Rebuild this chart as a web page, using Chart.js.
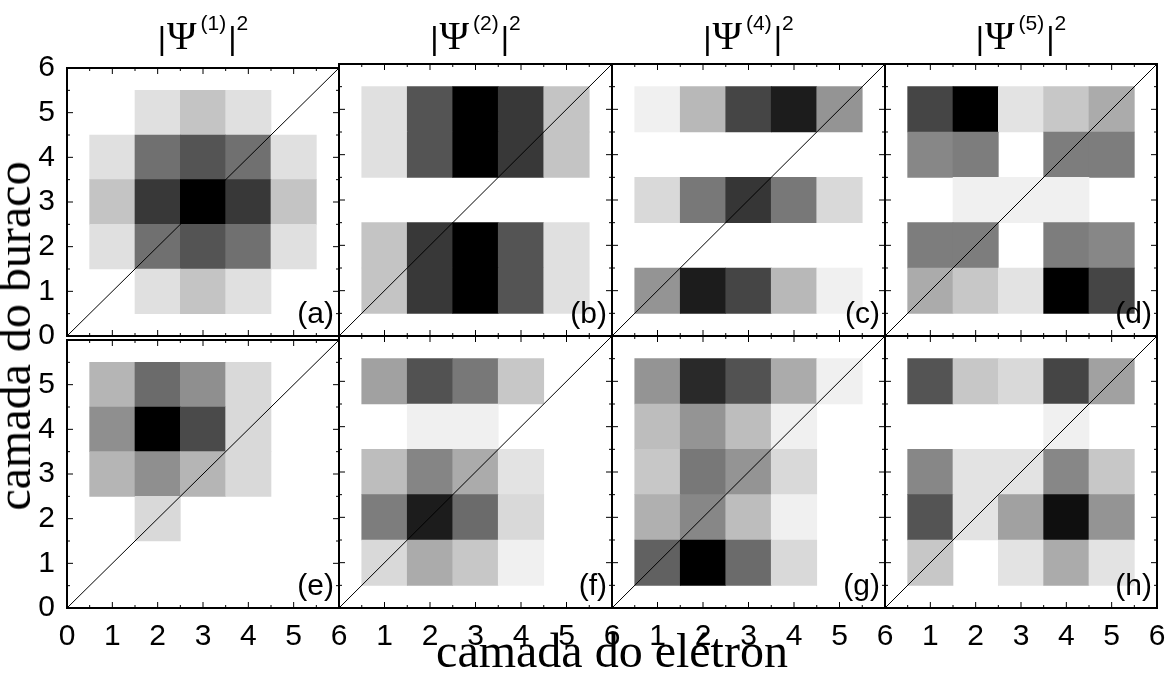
<!DOCTYPE html>
<html>
<head>
<meta charset="utf-8">
<script src="https://cdn.jsdelivr.net/npm/chart.js@4"></script>
<style>
  body { margin: 0; background: #fff; }
  #fig { position: relative; width: 1175px; height: 680px; overflow: hidden; }
  #fig canvas { position: absolute; }
  .ttl {
    position: absolute; top: 12px; transform: translateX(-50%);
    font-family: "Liberation Sans", sans-serif; font-size: 32px; line-height: 48px;
    white-space: nowrap; color: #000;
  }
  .ttl .psi { font-family: "Liberation Serif", serif; font-size: 40px; margin: 0 1px; }
  .ttl sup { font-size: 21px; vertical-align: baseline; position: relative; top: -19px; }
  .ttl sup.n { margin-left: 3px; margin-right: 2px; }
  .axlab {
    position: absolute; font-family: "Liberation Serif", serif; font-size: 48px; line-height: 48px;
    color: #000; white-space: nowrap;
  }
</style>
</head>
<body>
<div id="fig"></div>
<script>
// camada do elétron (x) e camada do buraco (y)
const electronLayers = [1, 2, 3, 4, 5];
const holeLayers = [5, 4, 3, 2, 1];   // rows listed from top to bottom
const axisTicks = [0, 1, 2, 3, 4, 5, 6];
const diagonal = [0, 6];

const stateNames = ['1', '2', '4', '5', '1', '2', '4', '5'];
const panelLetters = ['(a)', '(b)', '(c)', '(d)', '(e)', '(f)', '(g)', '(h)'];

// |Psi|^2 normalised to the maximum of each panel, rows = holeLayers
const probA = [
  [0.00, 0.12, 0.23, 0.12, 0.00],
  [0.12, 0.56, 0.67, 0.56, 0.12],
  [0.23, 0.78, 1.00, 0.78, 0.23],
  [0.12, 0.56, 0.67, 0.56, 0.12],
  [0.00, 0.12, 0.23, 0.12, 0.00]
];
const probB = [
  [0.12, 0.67, 1.00, 0.78, 0.23],
  [0.12, 0.67, 1.00, 0.78, 0.23],
  [0.00, 0.00, 0.00, 0.00, 0.00],
  [0.23, 0.78, 1.00, 0.67, 0.12],
  [0.23, 0.78, 1.00, 0.67, 0.12]
];
const probC = [
  [0.06, 0.28, 0.73, 0.89, 0.42],
  [0.00, 0.00, 0.00, 0.00, 0.00],
  [0.15, 0.53, 0.79, 0.53, 0.15],
  [0.00, 0.00, 0.00, 0.00, 0.00],
  [0.42, 0.89, 0.73, 0.28, 0.06]
];
const probD = [
  [0.73, 1.00, 0.11, 0.22, 0.33],
  [0.47, 0.51, 0.00, 0.51, 0.51],
  [0.00, 0.06, 0.06, 0.06, 0.00],
  [0.51, 0.51, 0.00, 0.51, 0.47],
  [0.33, 0.22, 0.11, 1.00, 0.73]
];
const probE = [
  [0.29, 0.58, 0.44, 0.15, 0.00],
  [0.44, 1.00, 0.71, 0.15, 0.00],
  [0.29, 0.44, 0.29, 0.15, 0.00],
  [0.00, 0.15, 0.00, 0.00, 0.00],
  [0.00, 0.00, 0.00, 0.00, 0.00]
];
const probF = [
  [0.37, 0.68, 0.53, 0.22, 0.00],
  [0.00, 0.06, 0.06, 0.00, 0.00],
  [0.26, 0.48, 0.33, 0.11, 0.00],
  [0.51, 0.89, 0.58, 0.15, 0.00],
  [0.15, 0.33, 0.22, 0.06, 0.00]
];
const probG = [
  [0.42, 0.84, 0.68, 0.33, 0.06],
  [0.26, 0.42, 0.26, 0.06, 0.00],
  [0.22, 0.53, 0.42, 0.15, 0.00],
  [0.31, 0.47, 0.26, 0.06, 0.00],
  [0.62, 1.00, 0.58, 0.15, 0.00]
];
const probH = [
  [0.67, 0.22, 0.15, 0.73, 0.37],
  [0.00, 0.00, 0.00, 0.06, 0.00],
  [0.47, 0.11, 0.11, 0.47, 0.22],
  [0.67, 0.11, 0.37, 0.94, 0.42],
  [0.22, 0.00, 0.11, 0.33, 0.11]
];
const panels = [probA, probB, probC, probD, probE, probF, probG, probH];

// figure layout (pixels)
const colLeft = [67, 339, 612, 885];
const colWidth = [272, 273, 273, 272];
const rowTop = [64, 336];
const rowHeight = 272;
const padL = 58, padT = 18, padR = 12, padB = 40;

const fig = document.getElementById('fig');

function grey(v) {
  const g = Math.round(255 * (1 - v));
  return `rgb(${g},${g},${g})`;
}

// frame, inward major/minor ticks and the panel letter
const frameTicks = {
  id: 'frameTicks',
  afterDatasetsDraw(chart, args, opts) {
    const { ctx, chartArea: a, scales: { x, y } } = chart;
    ctx.save();
    ctx.strokeStyle = '#000';
    ctx.lineWidth = 1;
    ctx.beginPath();
    const marks = (scale) => {
      const out = [];
      scale.ticks.forEach((t, i) => {
        out.push([scale.getPixelForValue(t.value), 6]);
        const next = scale.ticks[i + 1];
        if (next) out.push([scale.getPixelForValue((t.value + next.value) / 2), 3]);
      });
      return out;
    };
    marks(x).forEach(([px, len]) => {
      ctx.moveTo(px, a.bottom); ctx.lineTo(px, a.bottom - len);
      ctx.moveTo(px, a.top); ctx.lineTo(px, a.top + len);
    });
    marks(y).forEach(([py, len]) => {
      ctx.moveTo(a.left, py); ctx.lineTo(a.left + len, py);
      ctx.moveTo(a.right, py); ctx.lineTo(a.right - len, py);
    });
    ctx.stroke();
    ctx.lineWidth = 2;
    ctx.strokeRect(a.left, a.top, a.right - a.left, a.bottom - a.top);
    ctx.fillStyle = '#000';
    ctx.font = '30px "Liberation Sans", sans-serif';
    ctx.textAlign = 'right';
    ctx.textBaseline = 'alphabetic';
    ctx.fillText(opts.letter, a.right - 5, a.bottom - 13);
    ctx.restore();
  }
};

panels.forEach((prob, p) => {
  const col = p % 4, row = Math.floor(p / 4);
  const canvas = document.createElement('canvas');
  canvas.width = colWidth[col] + padL + padR;
  canvas.height = rowHeight + padT + padB;
  canvas.style.left = (colLeft[col] - padL) + 'px';
  canvas.style.top = (rowTop[row] - padT) + 'px';
  fig.appendChild(canvas);

  const cells = [], colors = [];
  holeLayers.forEach((h, r) => {
    electronLayers.forEach((e, c) => {
      const v = prob[r][c];
      if (v > 0) {
        cells.push({ x: e, y: [h - 0.5, h + 0.5] });
        colors.push(grey(v));
      }
    });
  });

  const showY = col === 0;
  const showX = row === 1;
  const hideY = row === 1 ? [6] : [];
  const hideX = col > 0 ? [0] : [];

  new Chart(canvas, {
    type: 'bar',
    data: {
      datasets: [
        {
          type: 'line',
          data: diagonal.map(v => ({ x: v, y: v })),
          borderColor: '#000',
          borderWidth: 1,
          pointRadius: 0,
          order: 0
        },
        {
          data: cells,
          backgroundColor: colors,
          borderWidth: 0,
          barPercentage: 1,
          categoryPercentage: 1,
          order: 1
        }
      ]
    },
    options: {
      responsive: false,
      animation: false,
      events: [],
      layout: { padding: { left: padL - 50, top: padT, right: padR, bottom: 0 } },
      plugins: {
        legend: { display: false },
        tooltip: { enabled: false },
        frameTicks: { letter: panelLetters[p] }
      },
      scales: {
        x: {
          type: 'linear',
          min: axisTicks[0], max: axisTicks[axisTicks.length - 1],
          offset: false,
          grid: { display: false },
          border: { display: false },
          afterFit(s) { s.height = padB; },
          ticks: {
            display: showX,
            stepSize: 1,
            padding: 3,
            color: '#000',
            font: { family: 'Liberation Sans', size: 30 },
            maxRotation: 0,
            autoSkip: false,
            callback: v => hideX.includes(v) ? '' : String(v)
          }
        },
        y: {
          type: 'linear',
          min: axisTicks[0], max: axisTicks[axisTicks.length - 1],
          grid: { display: false },
          border: { display: false },
          afterFit(s) { s.width = 50; },
          ticks: {
            display: showY,
            stepSize: 1,
            padding: 4,
            color: '#000',
            font: { family: 'Liberation Sans', size: 30 },
            autoSkip: false,
            callback: v => hideY.includes(v) ? '' : String(v)
          }
        }
      }
    },
    plugins: [frameTicks]
  });

  if (row === 0) {
    const t = document.createElement('div');
    t.className = 'ttl';
    t.style.left = (colLeft[col] + colWidth[col] / 2) + 'px';
    t.innerHTML = `|<span class="psi">Ψ</span><sup class="n">(${stateNames[p]})</sup>|<sup>2</sup>`;
    fig.appendChild(t);
  }
});

const xl = document.createElement('div');
xl.className = 'axlab';
xl.textContent = 'camada do elétron';
xl.style.left = '612px';
xl.style.top = '627px';
xl.style.transform = 'translateX(-50%)';
fig.appendChild(xl);

const yl = document.createElement('div');
yl.className = 'axlab';
yl.textContent = 'camada do buraco';
yl.style.left = '14px';
yl.style.top = '336px';
yl.style.transform = 'translate(-50%, -50%) rotate(-90deg)';
fig.appendChild(yl);
</script>
</body>
</html>
